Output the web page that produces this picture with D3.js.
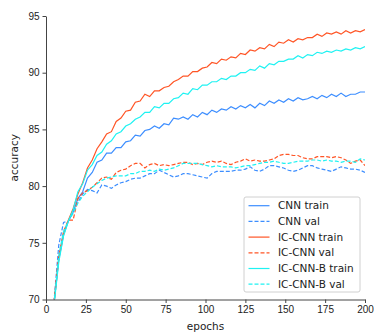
<!DOCTYPE html>
<html>
<head>
<meta charset="utf-8">
<script src="https://cdn.jsdelivr.net/npm/d3@7"></script>
<style>
  body { margin: 0; background: #fff; }
  svg { font-family: "DejaVu Sans", sans-serif; }
  .axis text { fill: #222; font-size: 10px; }
  .axis line, .axis path { stroke: #444; }
  .legendText { font-size: 10.5px; fill: #222; }
</style>
</head>
<body>
<svg class="chart_svg" width="374" height="333"></svg>
<script>
var epochs = [5, 8, 11, 14, 17, 20, 23, 26, 29, 32, 35, 38, 41, 44, 47, 50, 53, 56, 59, 62, 65, 68,
  71, 74, 77, 80, 83, 86, 89, 92, 95, 98, 101, 104, 107, 110, 113, 116, 119, 122, 125, 128, 131,
  134, 137, 140, 143, 146, 149, 152, 155, 158, 161, 164, 167, 170, 173, 176, 179, 182, 185, 188,
  191, 194, 197, 200];

var cnnTrain = [69.6, 73.5, 75.7, 76.9, 77.7, 78.9, 79.5, 80.7, 81.2, 82.1, 82.3, 82.9, 82.9, 83.4,
  83.4, 83.9, 84.0, 84.5, 84.4, 84.9, 85.0, 85.3, 85.1, 85.5, 85.4, 86.0, 85.9, 86.1, 85.9, 86.3,
  86.1, 86.5, 86.3, 86.7, 86.5, 86.8, 86.7, 87.0, 86.8, 87.1, 86.9, 87.2, 86.9, 87.3, 87.1, 87.5,
  87.3, 87.6, 87.4, 87.7, 87.5, 87.8, 87.6, 87.7, 87.9, 87.7, 88.0, 87.8, 88.1, 87.9, 88.2, 87.9,
  88.1, 88.1, 88.3, 88.3];

var cnnVal = [69.8, 74.8, 76.8, 76.9, 77.8, 78.6, 79.3, 79.7, 79.6, 79.4, 80.1, 80.0, 79.8, 80.1,
  80.3, 80.4, 80.6, 80.7, 80.7, 80.9, 81.1, 81.1, 81.4, 81.2, 81.0, 80.8, 80.9, 81.1, 81.1, 81.0,
  80.9, 80.8, 80.7, 81.1, 81.3, 81.3, 81.3, 81.3, 81.4, 81.4, 81.5, 81.7, 81.4, 81.3, 81.5, 81.8,
  81.8, 81.7, 81.6, 81.4, 81.3, 81.4, 81.6, 81.8, 81.8, 81.6, 81.5, 81.4, 81.3, 81.5, 81.7, 81.6,
  81.5, 81.5, 81.4, 81.2];

var icTrain = [69.6, 73.6, 75.8, 77.0, 78.0, 79.3, 80.3, 81.6, 82.3, 83.3, 83.9, 84.6, 84.8, 85.7,
  86.0, 86.6, 86.7, 87.4, 87.5, 88.1, 87.9, 88.4, 88.4, 88.7, 88.8, 89.2, 89.4, 89.7, 89.7, 90.1,
  90.1, 90.4, 90.5, 90.9, 90.8, 91.2, 91.1, 91.4, 91.3, 91.7, 91.6, 92.0, 91.9, 92.2, 92.1, 92.5,
  92.3, 92.7, 92.6, 92.9, 92.7, 93.0, 92.9, 93.1, 93.1, 93.4, 93.2, 93.5, 93.4, 93.6, 93.4, 93.7,
  93.5, 93.7, 93.6, 93.8];

var icVal = [69.8, 73.8, 76.0, 77.0, 77.0, 78.9, 79.4, 79.6, 79.9, 80.3, 80.7, 80.8, 80.6, 81.2,
  81.4, 81.5, 81.8, 82.0, 82.0, 81.6, 81.9, 82.0, 81.8, 81.9, 81.8, 81.9, 82.0, 82.1, 82.1, 81.9,
  82.0, 81.9, 82.1, 82.2, 82.1, 82.2, 82.0, 81.9, 82.1, 82.2, 82.4, 82.2, 82.3, 82.2, 82.2, 82.3,
  82.4, 82.7, 82.8, 82.8, 82.7, 82.7, 82.5, 82.4, 82.4, 82.6, 82.6, 82.6, 82.5, 82.6, 82.5, 82.3,
  82.0, 82.2, 82.3, 81.8];

var icbTrain = [69.5, 73.3, 75.6, 76.9, 77.9, 79.5, 80.2, 81.4, 81.9, 82.7, 83.0, 83.7, 84.0, 84.6,
  84.8, 85.3, 85.5, 85.9, 86.1, 86.5, 86.5, 87.0, 86.9, 87.3, 87.3, 87.7, 87.8, 88.2, 88.1, 88.6,
  88.5, 88.9, 88.9, 89.2, 89.2, 89.5, 89.4, 89.7, 89.7, 90.0, 90.0, 90.3, 90.2, 90.6, 90.4, 90.8,
  90.7, 91.0, 91.0, 91.2, 91.2, 91.5, 91.3, 91.6, 91.5, 91.8, 91.7, 91.9, 91.8, 92.0, 91.9, 92.1,
  92.0, 92.2, 92.1, 92.3];

var icbVal = [69.6, 73.9, 76.0, 76.9, 77.6, 78.5, 79.1, 79.5, 79.9, 80.2, 80.5, 80.7, 80.8, 80.9,
  80.9, 80.9, 81.1, 81.1, 81.3, 81.3, 81.4, 81.3, 81.5, 81.4, 81.5, 81.6, 81.8, 82.0, 82.0, 82.0,
  82.0, 81.9, 81.8, 81.7, 81.8, 81.7, 81.7, 81.7, 81.6, 81.7, 81.8, 81.8, 81.9, 82.0, 82.1, 82.1,
  82.2, 82.1, 82.0, 82.0, 82.1, 82.2, 82.2, 82.2, 82.3, 82.3, 82.2, 82.3, 82.2, 82.2, 82.1, 82.2,
  82.2, 82.1, 82.4, 82.3];

var seriesNames = ["CNN train", "CNN val", "IC-CNN train", "IC-CNN val", "IC-CNN-B train", "IC-CNN-B val"];
var seriesValues = [cnnTrain, cnnVal, icTrain, icVal, icbTrain, icbVal];
var seriesColours = ["#3d8eff", "#3d8eff", "#ff5526", "#ff5526", "#1ff2f2", "#1ff2f2"];
var seriesDashed = [false, true, false, true, false, true];

var xTicks = [0, 25, 50, 75, 100, 125, 150, 175, 200];
var yTicks = [70, 75, 80, 85, 90, 95];

var svg = d3.select(".chart_svg"),
    margin = {top: 16, right: 9, bottom: 33.5, left: 46},
    width = svg.attr("width") - margin.left - margin.right,
    height = svg.attr("height") - margin.top - margin.bottom;

var x = d3.scaleLinear().domain([0, 200]).range([0, width]);
var y = d3.scaleLinear().domain([70, 95]).range([height, 0]);

var chartContainer = svg.append("g")
    .attr("transform", "translate(" + margin.left + "," + margin.top + ")");

chartContainer.append("clipPath")
    .attr("id", "plot-clip")
  .append("rect")
    .attr("x", 0)
    .attr("y", 0)
    .attr("width", width)
    .attr("height", height);

var line = d3.line()
    .x(function(d, i) { return x(epochs[i]); })
    .y(function(d) { return y(d); });

// draw in the same order as the legend
var drawarea = chartContainer.append("g")
    .attr("clip-path", "url(#plot-clip)");

drawarea.selectAll("path")
    .data(seriesValues)
    .enter().append("path")
    .attr("d", line)
    .style("fill", "none")
    .style("stroke", function(d, i) { return seriesColours[i]; })
    .style("stroke-width", 1.2)
    .style("stroke-dasharray", function(d, i) { return seriesDashed[i] ? "4,2" : null; });

chartContainer.append("g")
    .attr("class", "axis axis--x")
    .attr("transform", "translate(0," + height + ")")
    .call(d3.axisBottom(x).tickValues(xTicks).tickSize(3.5).tickSizeOuter(0).tickPadding(3));

chartContainer.append("g")
    .attr("class", "axis axis--y")
    .call(d3.axisLeft(y).tickValues(yTicks).tickSize(3.5).tickSizeOuter(0).tickPadding(3));

chartContainer.append("text")
    .attr("x", width / 2)
    .attr("y", height + 30)
    .attr("class", "legendText")
    .style("text-anchor", "middle")
    .text("epochs");

chartContainer.append("text")
    .attr("transform", "rotate(-90)")
    .attr("x", -height / 2)
    .attr("y", -28)
    .attr("class", "legendText")
    .style("text-anchor", "middle")
    .text("accuracy");

/////////////// legend ///////////////
var legendX = 198, legendY = 181, rowH = 15.7;

var legend = chartContainer.append("g")
    .attr("transform", "translate(" + legendX + "," + legendY + ")");

legend.append("rect")
    .attr("x", 0)
    .attr("y", 0)
    .attr("width", 116)
    .attr("height", 95)
    .attr("rx", 2)
    .style("fill", "#fff")
    .style("fill-opacity", 0.8)
    .style("stroke", "#d0d0d0")
    .style("stroke-width", 1);

var rows = legend.selectAll(".row")
    .data(seriesNames)
    .enter().append("g")
    .attr("class", "row")
    .attr("transform", function(d, i) { return "translate(0," + (8.7 + i * rowH) + ")"; });

rows.append("line")
    .attr("x1", 4.5)
    .attr("x2", 25.5)
    .attr("y1", 0)
    .attr("y2", 0)
    .style("stroke", function(d, i) { return seriesColours[i]; })
    .style("stroke-width", 1.2)
    .style("stroke-dasharray", function(d, i) { return seriesDashed[i] ? "4,2" : null; });

rows.append("text")
    .attr("x", 34)
    .attr("y", 0)
    .attr("dy", "0.35em")
    .attr("class", "legendText")
    .text(function(d) { return d; });
</script>
</body>
</html>
